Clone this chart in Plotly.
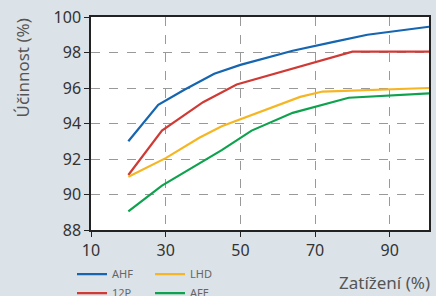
import plotly.graph_objects as go

x_ahf = [20, 28, 35, 43, 50, 64, 75, 84, 100.5]
y_ahf = [93.0, 95.05, 95.9, 96.8, 97.3, 98.1, 98.6, 99.0, 99.45]
x_12p = [20, 29, 40, 49, 80, 100.5]
y_12p = [91.1, 93.6, 95.2, 96.2, 98.05, 98.05]
x_lhd = [20, 30, 39, 45, 66, 72, 100.5]
y_lhd = [91.0, 92.05, 93.2, 93.85, 95.5, 95.8, 96.0]
x_afe = [20, 29, 45, 53, 64, 79, 100.5]
y_afe = [89.05, 90.5, 92.5, 93.6, 94.6, 95.45, 95.7]

x_ticks = [10, 30, 50, 70, 90]
y_ticks = [88, 90, 92, 94, 96, 98, 100]

series = [
    ("AHF", x_ahf, y_ahf, "#1565b0", "legend"),
    ("12P", x_12p, y_12p, "#cf3a35", "legend"),
    ("LHD", x_lhd, y_lhd, "#f6b623", "legend2"),
    ("AFE", x_afe, y_afe, "#0fa24e", "legend2"),
]

fig = go.Figure()
for name, xs, ys, col, lg in series:
    fig.add_trace(go.Scatter(x=xs, y=ys, mode="lines", name=name,
                             line=dict(color=col, width=2.2), legend=lg))

bg = "#dbe2e8"
FONT = "Noto Sans"
legfont = dict(family=FONT, size=11, color="#666666")
fig.update_layout(
    width=436, height=296,
    paper_bgcolor=bg, plot_bgcolor="white",
    margin=dict(l=91, r=7, t=17, b=66, autoexpand=False),
    font=dict(family=FONT, color="#333333"),
    legend=dict(x=72 / 436, y=0.123, xref="container", yref="container",
                xanchor="left", yanchor="top",
                font=legfont, bgcolor="rgba(0,0,0,0)", tracegroupgap=0,
                itemwidth=30),
    legend2=dict(x=150 / 436, y=0.123, xref="container", yref="container",
                 xanchor="left", yanchor="top",
                 font=legfont, bgcolor="rgba(0,0,0,0)", tracegroupgap=0,
                 itemwidth=30),
    xaxis=dict(range=[10, 100.5], tickvals=x_ticks, ticks="outside", ticklen=5,
               tickcolor="#222", showline=True, linecolor="#222", linewidth=1.5,
               mirror=True, showgrid=True, gridcolor="#999999", griddash="dash",
               gridwidth=1, tickfont=dict(size=16, color="#333333"), zeroline=False),
    yaxis=dict(range=[88, 100], tickvals=y_ticks, ticks="outside", ticklen=5,
               tickcolor="#222", showline=True, linecolor="#222", linewidth=1.5,
               mirror=True, showgrid=True, gridcolor="#999999", griddash="dash",
               gridwidth=1, tickfont=dict(size=16, color="#333333"), zeroline=False),
    annotations=[
        dict(text="Zatížení (%)", xref="paper", yref="paper",
             x=1.009, y=-0.185, xanchor="right", yanchor="top",
             showarrow=False, font=dict(size=17, color="#555555")),
        dict(text="Účinnost (%)", xref="paper", yref="paper",
             x=-0.204, y=1.0, xanchor="center", yanchor="top", textangle=-90,
             showarrow=False, font=dict(size=17, color="#555555")),
    ],
)
fig.write_html("out.html", config={"displayModeBar": False},
               post_script="document.body.style.margin='0';")
